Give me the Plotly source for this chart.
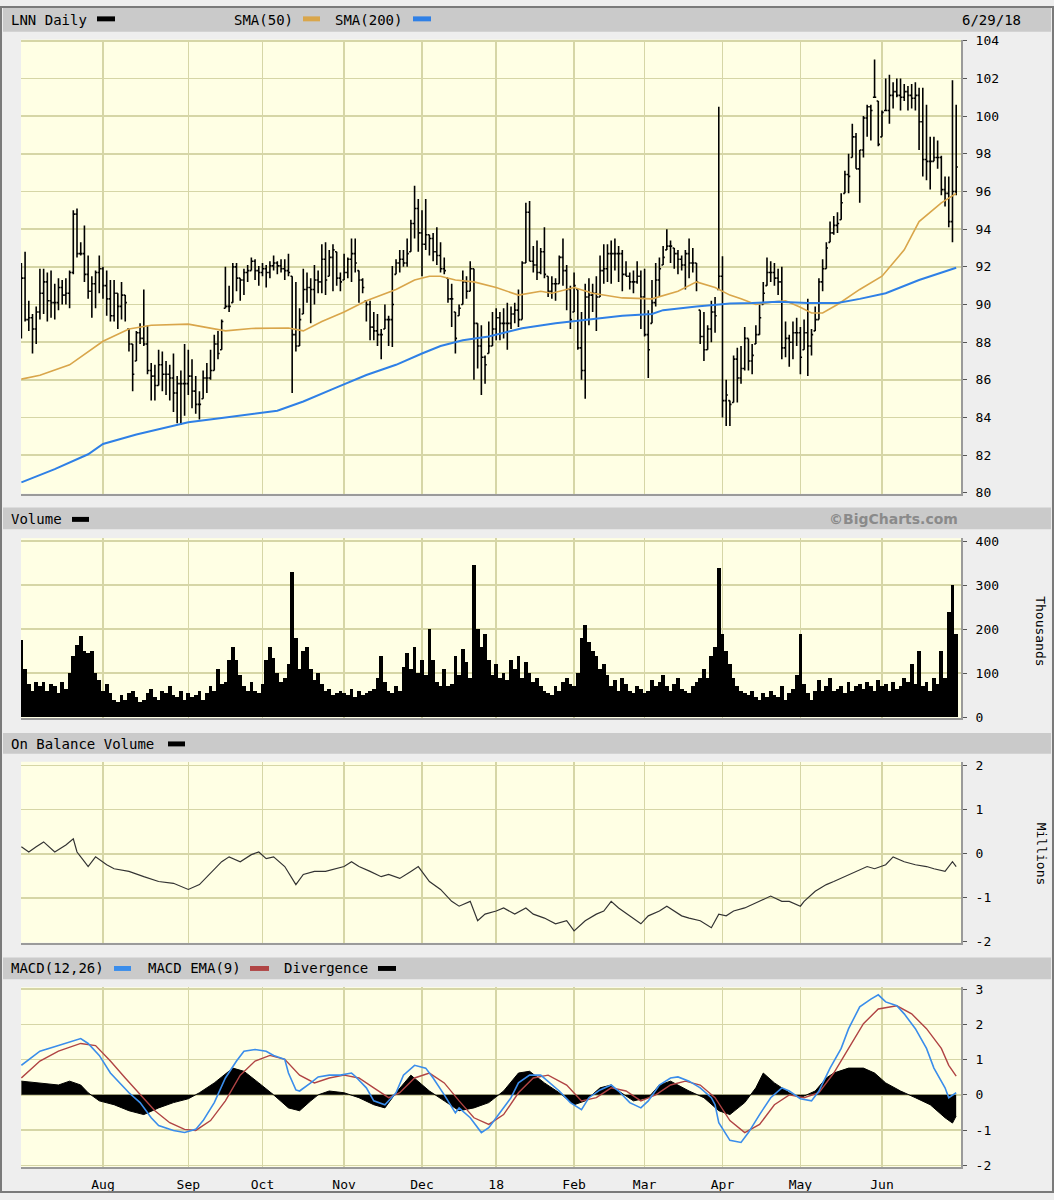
import plotly.graph_objects as go

W, H = 1054, 1200

# ---------------- data ----------------
month_idx = [22, 45, 65, 87, 108, 128, 149, 168, 189, 210, 232]
month_lbl = ["Aug", "Sep", "Oct", "Nov", "Dec", "18", "Feb", "Mar", "Apr", "May", "Jun"]

price_open = [
    91.0, 91.4, 89.2, 89.3, 88.7, 89.6, 90.6, 91.2, 90.2, 90.1, 90.1, 90.9, 90.5, 90.6, 91.7, 94.8, 92.7, 92.7, 91.6, 90.7,
    91.1, 91.7, 91.9, 91.0, 90.3, 89.4, 90.6, 89.9, 90.5, 88.7, 87.9, 87.0, 88.5, 88.2, 87.9, 86.5, 86.2, 85.7, 86.8, 86.3,
    86.3, 86.1, 85.3, 85.8, 85.8, 85.8, 86.2, 85.4, 84.7, 85.0, 86.1, 86.1, 86.5, 87.9, 87.6, 89.8, 89.9, 90.1, 92.0, 91.4,
    91.3, 91.7, 91.8, 92.3,
    91.8, 91.7, 91.9, 91.7, 92.05, 92.2, 92.05, 91.9, 91.8, 91.5, 88.4, 87.8, 89.5, 90.8, 90.9, 90.8, 91.3, 91.2, 92.4, 91.5,
    92.5, 92.8, 91.4, 91.3, 91.7, 92.4, 92.7, 91.8, 91.3, 90.2, 90.0, 88.8, 88.6, 88.4, 88.7, 89.2, 89.2, 91.6, 92.2, 92.4,
    92.2, 92.8, 94.3, 95.1, 93.8, 93.2, 93.7, 93.5, 92.8, 92.6, 91.9, 91.4, 90.3, 89.6, 89.4, 90.0, 91.2, 90.7, 91.9, 89.0,
    87.8, 87.2, 87.4, 87.8,
    88.7, 89.3, 89.0, 89.0, 89.0, 89.5, 89.7, 89.2, 92.2, 94.9, 92.3, 92.1, 91.7, 92.8, 91.5, 90.7, 91.1, 91.1, 92.5, 91.8,
    90.8, 89.6, 90.8, 87.7, 86.5, 90.4, 90.5, 90.6, 90.4, 91.8, 91.9, 92.7, 92.7, 92.7, 92.7, 91.6, 91.5, 91.2, 91.2, 91.5,
    90.4, 88.4, 89.0, 90.1, 91.3, 92.1, 92.9, 93.1, 93.0, 92.7, 92.4, 92.1, 92.7, 92.2, 92.2, 89.7, 88.3, 87.6, 88.7, 89.6,
    90.8,
    91.5, 84.9, 84.9, 84.8, 87.1, 86.1, 86.6, 88.2, 87.0, 87.9, 88.4, 90.0, 91.0, 91.7, 91.7, 91.4, 91.2, 87.7, 88.2, 88.0,
    88.5, 88.5, 87.6, 88.5, 87.8, 88.6, 89.2, 91.2, 91.9, 93.3, 93.8, 94.2, 94.5, 95.9, 96.9, 97.8, 98.9, 97.2, 98.2, 99.9,
    100.5, 101.0, 100.8, 98.9, 100.3, 100.3, 101.1, 101.3, 101.1, 101.0, 101.3, 101.1, 100.95, 101.1, 99.7, 97.7, 97.6, 97.6,
    97.8, 97.8, 96.1, 95.9, 94.4, 96.0,
]
price_high = [
    92.2, 92.8, 90.2, 89.5, 89.9, 91.9, 91.9, 91.7, 91.8, 91.1, 91.4, 91.3, 91.4, 91.8, 95.0, 95.1, 93.3, 94.2, 92.6, 91.5,
    91.8, 92.6, 92.0, 91.8, 91.3, 91.3, 90.6, 91.2, 90.5, 88.7, 87.9, 88.6, 89.0, 90.8, 88.9, 86.9, 86.8, 87.6, 87.5, 87.0,
    86.8, 87.4, 86.2, 86.5, 87.9, 87.6, 87.1, 86.2, 85.4, 86.5, 86.9, 87.6, 88.4, 88.6, 89.2, 92.0, 91.0, 92.2, 92.2, 91.4,
    91.9, 92.1, 92.5, 92.4,
    92.05, 92.2, 92.1, 92.3, 92.6, 92.3, 92.4, 92.4, 92.7, 91.5, 91.2, 89.8, 91.9, 91.7, 91.4, 92.1, 91.8, 93.2, 93.3, 92.9,
    93.2, 92.8, 91.7, 92.7, 92.5, 93.5, 93.5, 91.8, 91.4, 90.2, 90.2, 89.6, 89.5, 88.7, 90.0, 89.4, 92.05, 92.4, 92.9, 92.9,
    93.5, 94.5, 96.3, 95.6, 95.0, 95.6, 93.7, 93.8, 94.1, 93.3, 92.5, 91.4, 91.1, 89.6, 90.0, 91.8, 91.5, 92.3, 91.9, 89.0,
    88.9, 87.3, 89.1, 89.6,
    89.8, 89.6, 89.8, 90.1, 89.9, 90.1, 90.8, 92.3, 95.4, 95.5, 93.1, 93.4, 93.0, 94.1, 91.5, 91.5, 91.4, 92.6, 93.5, 92.1,
    91.0, 91.7, 90.8, 89.6, 91.1, 91.4, 91.1, 91.5, 92.6, 93.2, 93.2, 93.4, 93.5, 93.1, 92.9, 92.3, 91.7, 91.8, 92.3, 91.8,
    91.9, 89.7, 91.3, 92.2, 92.5, 93.1, 94.0, 93.4, 93.0, 92.9, 92.6, 92.9, 93.5, 93.0, 92.2, 89.7, 89.6, 88.9, 90.2, 90.4,
    100.5,
    92.56, 86.0, 84.9, 87.3, 87.7, 87.8, 88.8, 88.2, 87.9, 88.9, 90.0, 91.2, 92.5, 92.3, 92.2, 91.9, 92.0, 89.1, 88.4, 89.1,
    89.3, 88.8, 89.2, 90.3, 88.7, 89.9, 91.4, 92.4, 93.3, 94.4, 94.7, 94.9, 95.9, 97.1, 98.0, 99.6, 99.1, 98.2, 100.0, 100.6,
    100.6, 103.0, 100.8, 100.3, 102.0, 102.2, 101.8, 102.0, 102.0, 101.7, 101.6, 101.7, 101.8, 101.5, 101.5, 100.6, 98.9, 98.9,
    98.7, 97.9, 96.8, 96.8, 101.9, 100.6,
]
price_low = [
    88.2, 89.1, 88.6, 87.4, 87.9, 89.2, 89.5, 89.1, 89.3, 89.2, 89.7, 90.0, 90.0, 89.8, 91.6, 92.5, 92.6, 91.2, 90.3, 89.3,
    89.8, 90.6, 90.3, 89.4, 89.1, 89.1, 88.7, 89.2, 89.1, 87.5, 85.4, 87.0, 87.9, 87.8, 86.3, 84.9, 84.9, 85.7, 85.4, 85.2,
    84.9, 84.3, 83.7, 83.6, 84.1, 85.2, 84.5, 84.2, 83.9, 85.0, 85.3, 86.0, 86.5, 87.1, 87.6, 89.8, 89.6, 90.1, 90.7, 90.2,
    90.5, 91.2, 91.8, 91.3,
    91.0, 91.5, 90.9, 91.4, 91.8, 91.6, 91.7, 91.3, 91.5, 85.3, 87.5, 87.8, 89.5, 90.1, 89.0, 90.0, 90.6, 90.6, 90.5, 91.5,
    90.7, 91.0, 90.7, 91.3, 91.4, 91.2, 91.7, 90.1, 90.6, 89.1, 88.1, 88.1, 87.8, 87.1, 88.7, 87.8, 87.75, 91.6, 91.7, 92.0,
    92.0, 92.8, 93.5, 92.8, 91.5, 92.9, 92.6, 92.3, 92.1, 91.7, 91.6, 90.1, 88.8, 87.4, 89.4, 90.0, 90.3, 90.7, 86.0, 86.6,
    85.2, 85.8, 87.4, 87.8,
    88.1, 88.1, 88.2, 87.6, 88.7, 89.0, 88.8, 89.2, 92.2, 92.3, 91.7, 91.3, 91.6, 91.4, 90.4, 90.3, 90.2, 91.1, 91.0, 89.7,
    88.7, 89.6, 87.6, 86.0, 85.0, 88.9, 89.6, 88.6, 90.4, 91.1, 91.2, 91.1, 91.8, 91.2, 90.7, 91.5, 90.8, 90.6, 91.1, 88.7,
    88.3, 86.1, 89.0, 89.9, 90.4, 92.1, 92.9, 92.2, 91.9, 91.6, 91.8, 90.8, 91.4, 91.7, 90.7, 87.9, 87.0, 87.6, 88.0, 88.5,
    90.8,
    84.0, 83.55, 83.55, 84.8, 84.8, 85.8, 86.5, 86.5, 86.3, 87.9, 88.4, 90.0, 91.0, 91.2, 91.0, 90.5, 87.1, 87.2, 86.7, 87.1,
    87.8, 86.3, 87.6, 86.2, 87.3, 88.6, 89.2, 90.7, 91.9, 93.3, 93.7, 93.8, 94.5, 95.9, 95.9, 97.8, 97.2, 95.4, 97.8, 98.9,
    98.7, 101.0, 98.4, 98.9, 100.3, 99.6, 100.4, 101.0, 100.3, 100.8, 100.3, 100.4, 100.3, 98.2, 96.8, 96.6, 96.1, 97.6,
    97.2, 95.8, 95.2, 94.1, 93.3, 95.8,
]
price_close = [
    91.4, 89.2, 89.3, 88.7, 89.6, 90.6, 91.2, 90.2, 90.1, 90.1, 90.9, 90.5, 90.6, 91.7, 94.8, 92.7, 92.7, 91.6, 90.7, 91.1,
    91.7, 91.9, 91.0, 90.3, 89.4, 90.6, 89.9, 90.5, 90.1, 87.9, 86.3, 88.5, 88.2, 87.9, 86.5, 86.2, 85.7, 86.8, 86.3, 86.3,
    86.1, 85.3, 85.8, 85.8, 85.8, 86.2, 85.4, 84.7, 84.7, 86.1, 86.1, 86.5, 87.9, 87.4, 89.1, 89.9, 89.9, 92.0, 91.4, 91.3,
    91.7, 91.8, 92.3, 91.8,
    91.7, 91.9, 91.7, 92.05, 92.2, 92.05, 91.9, 91.8, 91.7, 88.4, 87.8, 89.2, 90.8, 90.9, 90.8, 91.3, 91.2, 92.4, 91.3, 92.5,
    92.9, 91.4, 91.2, 91.7, 92.4, 92.7, 92.2, 91.3, 90.9, 90.0, 88.8, 88.6, 88.4, 88.4, 89.2, 89.2, 90.0, 92.2, 92.4, 92.2,
    92.7, 94.3, 95.1, 93.8, 93.2, 93.7, 93.5, 92.8, 92.6, 91.9, 91.8, 90.3, 90.3, 88.2, 89.8, 91.2, 90.7, 91.9, 89.0, 87.8,
    87.2, 86.8, 87.8, 88.7,
    89.3, 89.0, 89.0, 89.0, 89.5, 89.7, 89.2, 92.2, 94.9, 92.3, 92.1, 91.7, 92.8, 91.6, 90.7, 91.1, 91.1, 92.5, 91.8, 90.8,
    89.2, 91.0, 87.7, 86.5, 90.4, 90.5, 90.6, 90.4, 91.8, 91.9, 92.7, 92.7, 92.7, 92.7, 91.6, 91.5, 91.2, 91.2, 91.5, 90.4,
    88.4, 87.6, 90.1, 91.3, 91.9, 92.5, 93.1, 93.1, 92.7, 92.4, 92.1, 92.7, 92.2, 92.2, 91.2, 88.3, 87.6, 88.7, 89.6, 89.4,
    91.5,
    84.9, 85.2, 84.7, 87.1, 86.1, 86.6, 88.2, 87.0, 87.3, 88.4, 89.3, 90.6, 91.7, 91.7, 91.4, 91.2, 87.7, 88.2, 88.0, 88.5,
    88.5, 87.2, 88.5, 87.8, 88.4, 89.2, 91.2, 91.9, 93.0, 93.8, 94.2, 94.3, 95.4, 96.9, 96.8, 98.9, 97.2, 98.2, 99.9, 100.5,
    100.3, 101.0, 98.5, 100.2, 100.3, 101.1, 101.3, 101.1, 101.0, 101.3, 101.1, 100.95, 101.1, 99.7, 97.7, 97.6, 97.6, 97.8,
    97.8, 96.1, 95.9, 94.4, 96.0, 97.3,
]
day_idx = list(range(len(price_close)))

sma50_idx = [0, 5, 13, 18, 22, 29, 35, 45, 52, 55, 62, 72, 76, 81, 87, 93, 101, 106, 110, 113, 117, 122, 128, 134,
             140, 143, 149, 154, 162, 170, 177, 182, 187, 191, 194, 198, 203, 206, 210, 213, 216, 220, 226, 232,
             238, 242, 248, 252]
sma50_val = [86.04, 86.25, 86.8, 87.5, 88.05, 88.7, 88.9, 88.96, 88.73, 88.6, 88.73, 88.75, 88.6, 89.1, 89.6, 90.2,
             90.8, 91.3, 91.5, 91.5, 91.3, 91.2, 90.9, 90.5, 90.7, 90.6, 90.9, 90.6, 90.35, 90.3, 90.7, 91.2, 90.9,
             90.5, 90.3, 90.0, 90.15, 90.2, 89.85, 89.55, 89.55, 90.0, 90.8, 91.5, 92.9, 94.4, 95.4, 95.9]
sma200_idx = [0, 9, 18, 22, 31, 40, 45, 54, 62, 69, 76, 80, 85, 93, 101, 108, 113, 119, 126, 135, 144, 153, 162,
              170, 173, 182, 191, 197, 204, 212, 220, 226, 233, 242, 252]
sma200_val = [80.56, 81.26, 82.05, 82.6, 83.1, 83.54, 83.75, 83.97, 84.18, 84.36, 84.85, 85.2, 85.6, 86.26, 86.8,
              87.4, 87.8, 88.1, 88.3, 88.74, 89.0, 89.2, 89.4, 89.5, 89.7, 89.9, 90.05, 90.08, 90.15, 90.08, 90.08,
              90.3, 90.6, 91.3, 91.95]

volume_k = [
    175, 110, 75, 60, 80, 70, 80, 60, 75, 70, 55, 80, 65, 100, 140, 165, 185, 150, 145, 150,
    100, 85, 60, 75, 55, 40, 35, 50, 40, 55, 60, 45, 35, 40, 55, 65, 45, 40, 60, 55,
    70, 50, 45, 60, 40, 55, 45, 50, 60, 40, 55, 70, 60, 110, 75, 80, 130, 160, 130, 95,
    70, 60, 80, 60, 55, 75, 130, 160, 135, 100, 80, 90, 120, 330, 180, 110, 150, 160, 110, 85,
    100, 75, 60, 65, 50, 55, 60, 55, 50, 65, 45, 60, 50, 55, 60, 65, 90, 140, 80, 60,
    55, 70, 60, 115, 145, 110, 160, 100, 130, 95, 200, 130, 80, 70, 110, 70, 75, 140, 95, 155,
    125, 90, 345, 200, 160, 190, 130, 95, 120, 90, 100, 85, 130, 110, 140, 90, 125, 100, 80, 90,
    70, 60, 55, 50, 70, 60, 80, 90, 75, 70, 100, 180, 210, 170, 150, 140, 110, 120, 95, 70,
    85, 60, 90, 75, 60, 55, 70, 65, 55, 60, 85, 70, 80, 95, 70, 60, 75, 90, 65, 60,
    55, 70, 80, 90, 110, 90, 140, 160, 340, 190, 150, 120, 90, 70, 60, 55, 50, 60, 45, 40,
    55, 45, 60, 50, 45, 70, 40, 55, 65, 95, 190, 75, 55, 40, 60, 85, 60, 70, 90, 60,
    65, 70, 55, 80, 60, 70, 75, 65, 80, 70, 60, 85, 70, 75, 60, 80, 65, 70, 90, 80,
    120, 75, 150, 70, 80, 60, 90, 75, 150, 90, 240, 300, 190,
]

obv_idx = [0, 2, 4, 6, 9, 12, 14, 15, 17, 18, 20, 23, 25, 29, 33, 37, 41, 45, 48, 51, 54, 56, 59, 62, 64, 66, 68,
           71, 74, 76, 79, 82, 85, 87, 89, 91, 94, 97, 99, 102, 105, 107, 110, 113, 116, 118, 121, 123, 125, 128,
           130, 133, 136, 138, 141, 144, 147, 149, 152, 155, 157, 159, 161, 164, 167, 169, 172, 174, 178, 180,
           183, 186, 188, 190, 192, 195, 199, 202, 205, 207, 210, 211, 214, 217, 219, 222, 225, 228, 230, 233,
           235, 238, 241, 244, 246, 249, 251, 252]
obv_m = [0.16, 0.04, 0.16, 0.27, 0.04, 0.2, 0.34, 0.04, -0.18, -0.29, -0.07, -0.25, -0.34, -0.4, -0.52, -0.63,
         -0.67, -0.81, -0.7, -0.45, -0.18, -0.07, -0.18, -0.02, 0.04, -0.11, -0.07, -0.29, -0.7, -0.47, -0.4,
         -0.4, -0.34, -0.29, -0.18, -0.29, -0.4, -0.52, -0.47, -0.56, -0.4, -0.29, -0.63, -0.81, -1.08, -1.19,
         -1.08, -1.52, -1.37, -1.3, -1.23, -1.37, -1.23, -1.37, -1.46, -1.59, -1.52, -1.75, -1.52, -1.37, -1.3,
         -1.08, -1.23, -1.41, -1.59, -1.41, -1.3, -1.19, -1.41, -1.46, -1.52, -1.68, -1.37, -1.41, -1.3, -1.23,
         -1.08, -0.96, -1.08, -1.08, -1.19, -1.08, -0.85, -0.7, -0.63, -0.52, -0.4, -0.29, -0.34, -0.25, -0.07,
         -0.18, -0.25, -0.29, -0.34, -0.4, -0.18, -0.29]

macd_idx = [0, 5, 10, 16, 18, 21, 24, 27, 29, 32, 35, 37, 41, 44, 47, 49, 52, 55, 58, 60, 63, 66, 68, 71, 72, 74,
            75, 78, 80, 83, 86, 89, 90, 93, 95, 98, 101, 103, 106, 109, 111, 114, 117, 118, 121, 124, 126, 129,
            132, 134, 137, 140, 142, 145, 148, 151, 153, 156, 159, 161, 164, 167, 169, 172, 175, 177, 180, 183,
            186, 187, 188, 191, 194, 196, 199, 202, 205, 207, 210, 213, 215, 218, 221, 223, 226, 229, 231, 233,
            236, 238, 241, 244, 246, 249, 250, 252]
macd_val = [0.84, 1.24, 1.4, 1.6, 1.46, 1.12, 0.62, 0.28, 0.06, -0.22, -0.65, -0.87, -1.01, -1.07, -0.98, -0.73,
            -0.22, 0.48, 0.96, 1.24, 1.29, 1.24, 1.12, 1.01, 0.62, 0.14, 0.11, 0.34, 0.51, 0.56, 0.56, 0.62, 0.53,
            0.2, -0.17, -0.28, 0.06, 0.56, 0.84, 0.76, 0.48, 0.0, -0.51, -0.37, -0.65, -1.07, -0.93, -0.51, -0.08,
            0.34, 0.56, 0.56, 0.39, 0.11, -0.22, -0.42, -0.08, 0.14, 0.28, 0.11, -0.22, -0.37, -0.17, 0.28, 0.48,
            0.51, 0.39, 0.2, -0.08, -0.28, -0.79, -1.29, -1.35, -1.07, -0.56, -0.08, 0.2, 0.11, -0.11, -0.17, 0.11,
            0.76, 1.32, 1.88, 2.5, 2.72, 2.84, 2.64, 2.53, 2.3, 1.88, 1.32, 0.76, 0.2, -0.08, 0.06]

signal_idx = [0, 5, 10, 16, 20, 24, 28, 32, 36, 40, 44, 47, 51, 55, 59, 63, 67, 71, 75, 79, 83, 87, 91, 95, 99, 102,
              106, 110, 114, 118, 122, 126, 130, 134, 138, 142, 147, 151, 155, 159, 163, 167, 171, 175, 179, 183,
              187, 191, 195, 199, 203, 207, 211, 215, 219, 223, 227, 231, 236, 240, 244, 248, 250, 252]
signal_val = [0.48, 0.96, 1.24, 1.46, 1.4, 0.96, 0.48, 0.0, -0.45, -0.79, -0.98, -1.01, -0.73, -0.17, 0.56, 0.96,
              1.12, 1.01, 0.56, 0.34, 0.48, 0.56, 0.48, 0.2, -0.08, 0.06, 0.48, 0.62, 0.34, -0.17, -0.65, -0.84,
              -0.56, 0.06, 0.48, 0.56, 0.28, -0.17, -0.08, 0.2, 0.11, -0.17, 0.0, 0.28, 0.39, 0.28, -0.08, -0.73,
              -1.07, -0.84, -0.28, 0.0, -0.08, 0.06, 0.62, 1.32, 2.02, 2.44, 2.53, 2.3, 1.88, 1.32, 0.84, 0.53]

div_idx = [0, 5, 10, 13, 16, 18, 21, 25, 29, 33, 37, 41, 45, 48, 52, 57, 60, 64, 68, 72, 75, 78, 80, 83, 87, 91,
           95, 98, 101, 105, 107, 110, 114, 118, 122, 126, 130, 134, 137, 141, 145, 149, 152, 156, 159, 161, 165,
           169, 172, 175, 180, 184, 188, 191, 195, 198, 200, 203, 207, 210, 214, 217, 219, 223, 227, 230, 233,
           237, 241, 245, 249, 251, 252]
div_val = [0.39, 0.34, 0.28, 0.39, 0.28, 0.06, -0.17, -0.28, -0.45, -0.56, -0.37, -0.22, -0.11, 0.06, 0.34, 0.76,
           0.67, 0.34, 0.0, -0.37, -0.45, -0.17, 0.0, 0.11, 0.06, -0.08, -0.28, -0.37, 0.06, 0.56, 0.39, 0.11, -0.17,
           -0.45, -0.37, -0.22, 0.11, 0.62, 0.67, 0.34, 0.06, -0.28, -0.17, 0.2, 0.28, 0.11, -0.17, -0.08, 0.28,
           0.39, 0.11, -0.08, -0.45, -0.56, -0.22, 0.2, 0.62, 0.34, 0.06, -0.08, 0.11, 0.48, 0.62, 0.76, 0.76,
           0.62, 0.34, 0.11, -0.08, -0.28, -0.65, -0.8, -0.6]

# ---------------- styling ----------------
PLOT_BG = "#FFFFE4"
GRID = "#D6D6A6"
PAPER = "#EEEEEE"
HEADER = "#CACACA"
MONO = "DejaVu Sans Mono"
C_SMA50 = "#D9A64B"
C_SMA200 = "#2F80E6"
C_MACD = "#3A8DEB"
C_SIG = "#B04444"


def px_x(x):
    return x / W


def px_y(y):
    return 1 - y / H


# panel pixel boxes (top, bottom)
panels = {"price": (34, 493), "vol": (538, 720), "obv": (764, 947), "macd": (992, 1174)}
X_LEFT, X_RIGHT = 21, 961
xdom = [px_x(X_LEFT), px_x(X_RIGHT)]
xrange = [-0.1, 253.3]

fig = go.Figure()

fig.add_trace(go.Ohlc(
    x=day_idx, open=price_open, high=price_high, low=price_low, close=price_close,
    increasing=dict(line=dict(color="black", width=1.6)),
    decreasing=dict(line=dict(color="black", width=1.6)),
    tickwidth=0.45, xaxis="x", yaxis="y", showlegend=False, hoverinfo="skip",
))
fig.add_trace(go.Scatter(x=sma50_idx, y=sma50_val, mode="lines", line=dict(color=C_SMA50, width=1.6),
                         xaxis="x", yaxis="y", showlegend=False, hoverinfo="skip"))
fig.add_trace(go.Scatter(x=sma200_idx, y=sma200_val, mode="lines", line=dict(color=C_SMA200, width=2),
                         xaxis="x", yaxis="y", showlegend=False, hoverinfo="skip"))

fig.add_trace(go.Bar(x=day_idx, y=volume_k, width=1.0, marker=dict(color="black", line=dict(width=0)),
                     xaxis="x2", yaxis="y2", showlegend=False, hoverinfo="skip"))

fig.add_trace(go.Scatter(x=obv_idx, y=obv_m, mode="lines", line=dict(color="#333333", width=1.2),
                         xaxis="x3", yaxis="y3", showlegend=False, hoverinfo="skip"))

fig.add_trace(go.Scatter(x=div_idx, y=div_val, mode="lines", fill="tozeroy", fillcolor="black",
                         line=dict(color="black", width=1), xaxis="x4", yaxis="y4", showlegend=False,
                         hoverinfo="skip"))
fig.add_trace(go.Scatter(x=signal_idx, y=signal_val, mode="lines", line=dict(color=C_SIG, width=1.4),
                         xaxis="x4", yaxis="y4", showlegend=False, hoverinfo="skip"))
fig.add_trace(go.Scatter(x=macd_idx, y=macd_val, mode="lines", line=dict(color=C_MACD, width=1.6),
                         xaxis="x4", yaxis="y4", showlegend=False, hoverinfo="skip"))

axis_font = dict(family=MONO, size=13, color="black")


def xaxis_cfg(anchor, labels):
    return dict(domain=xdom, range=xrange, anchor=anchor, tickmode="array", tickvals=month_idx,
                ticktext=month_lbl, showticklabels=labels, ticks="", showgrid=True, gridcolor=GRID,
                gridwidth=1.5, zeroline=False, showline=True, linecolor="#9A9A9A", linewidth=2,
                tickfont=axis_font, ticklabelstandoff=4, fixedrange=True, rangeslider=dict(visible=False))


def yaxis_cfg(anchor, key, rng, tickvals, gridvals):
    top, bot = panels[key]
    return dict(domain=[px_y(bot), px_y(top)], range=rng, anchor=anchor, side="right",
                tickmode="array", tickvals=gridvals,
                ticktext=[(str(int(v)) if v in tickvals else "") for v in gridvals],
                showgrid=True, gridcolor=GRID, gridwidth=1.5, zeroline=False, showline=True,
                linecolor="#9A9A9A", linewidth=2, ticks="outside", ticklen=4, tickcolor="#555555",
                tickfont=axis_font, ticklabelstandoff=6, fixedrange=True)


price_grid = list(range(80, 105, 2))
vol_grid = [0, 100, 200, 300, 400]
obv_grid = [-2, -1, 0, 1, 2]
macd_grid = [-2, -1, 0, 1, 2, 3]

fig.update_layout(
    width=W, height=H, margin=dict(l=0, r=0, t=0, b=0),
    paper_bgcolor=PAPER, plot_bgcolor=PLOT_BG, bargap=0,
    xaxis=xaxis_cfg("y", False),
    xaxis2=dict(xaxis_cfg("y2", False), matches="x"),
    xaxis3=dict(xaxis_cfg("y3", False), matches="x"),
    xaxis4=dict(xaxis_cfg("y4", True), matches="x"),
    yaxis=yaxis_cfg("x", "price", [79.96, 104.06], price_grid, price_grid),
    yaxis2=yaxis_cfg("x2", "vol", [-2.2, 406.7], vol_grid, vol_grid),
    yaxis3=yaxis_cfg("x3", "obv", [-2.02, 2.09], obv_grid, obv_grid),
    yaxis4=yaxis_cfg("x4", "macd", [-2.056, 3.056], macd_grid, macd_grid),
    showlegend=False,
)

shapes = []
annotations = []

# outer frame
shapes.append(dict(type="rect", xref="paper", yref="paper", x0=px_x(1), x1=px_x(1053), y0=px_y(1199),
                   y1=px_y(1), line=dict(color="#7A7A7A", width=2), fillcolor="rgba(0,0,0,0)", layer="above"))

headers = [(2, 26), (507, 529), (735, 756), (962, 984)]
for (t, b) in headers:
    shapes.append(dict(type="rect", xref="paper", yref="paper", x0=px_x(3), x1=px_x(1051), y0=px_y(b),
                       y1=px_y(t), line=dict(width=0), fillcolor=HEADER, layer="below"))


def label(text, x, y, size=14, color="black", family=MONO, bold=False, anchor="left"):
    annotations.append(dict(text=("<b>%s</b>" % text) if bold else text, x=px_x(x), y=px_y(y),
                            xref="paper", yref="paper", xanchor=anchor, yanchor="middle", showarrow=False,
                            font=dict(family=family, size=size, color=color)))


def swatch(x0, x1, yc, color, h=5):
    shapes.append(dict(type="rect", xref="paper", yref="paper", x0=px_x(x0), x1=px_x(x1),
                       y0=px_y(yc + h / 2), y1=px_y(yc - h / 2), line=dict(width=0), fillcolor=color))


# header 1
label("LNN Daily", 9, 14)
swatch(97, 115, 13, "black")
label("SMA(50)", 232, 14)
swatch(303, 320, 13, C_SMA50)
label("SMA(200)", 333, 14)
swatch(413, 431, 13, C_SMA200)
label("6/29/18", 1023, 14, anchor="right")

# header 2
label("Volume", 9, 519)
swatch(72, 89, 519, "black")
label("©BigCharts.com", 960, 519, size=14, color="#8A8A8A", family="DejaVu Sans", bold=True, anchor="right")

# header 3
label("On Balance Volume", 9, 746)
swatch(168, 185, 746, "black")

# header 4
label("MACD(12,26)", 9, 973)
swatch(114, 131, 973, C_MACD)
label("MACD EMA(9)", 146, 973)
swatch(250, 269, 973, C_SIG)
label("Divergence", 282, 973)
swatch(378, 396, 973, "black")

# rotated unit titles
annotations.append(dict(text="Thousands", x=px_x(1041), y=px_y(632), xref="paper", yref="paper",
                        xanchor="center", yanchor="middle", showarrow=False, textangle=90, font=axis_font))
annotations.append(dict(text="Millions", x=px_x(1041), y=px_y(857), xref="paper", yref="paper",
                        xanchor="center", yanchor="middle", showarrow=False, textangle=90, font=axis_font))

fig.update_layout(shapes=shapes, annotations=annotations)

fig.write_html("out.html", config={"displayModeBar": False, "staticPlot": True},
               post_script="document.body.style.margin='0';document.body.style.overflow='hidden';")
